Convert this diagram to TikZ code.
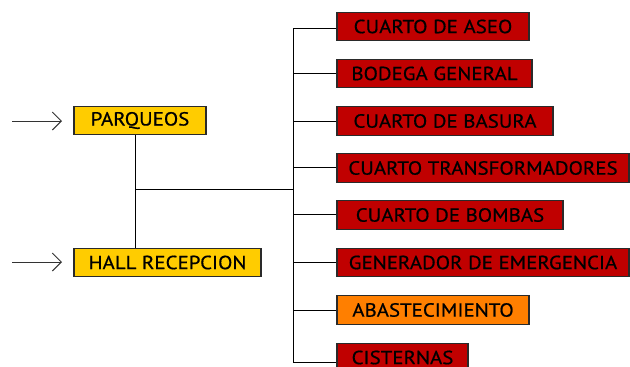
\documentclass[tikz,border=0pt]{standalone}
\usepackage{fontspec}
\setmainfont{PT Sans}[FakeStretch=1.1,FakeBold=0.6]
\usetikzlibrary{arrows.meta}
\definecolor{boxred}{HTML}{C00000}
\definecolor{boxyellow}{HTML}{FFCC00}
\definecolor{boxorange}{HTML}{FF7F00}
\definecolor{edgegray}{HTML}{2A2A2A}
\tikzset{
  roombox/.style={draw=edgegray, line width=1.1pt, minimum height=28.5pt, inner sep=0pt,
    font=\fontsize{19}{21}\selectfont, text=black},
  redbox/.style={roombox, fill=boxred},
  yellowbox/.style={roombox, fill=boxyellow},
  orangebox/.style={roombox, fill=boxorange},
  conn/.style={draw=black, line width=1pt},
  entry/.style={draw=black!80, line width=1pt, -{Straight Barb[length=9pt,width=18pt,line width=1pt]}}
}
\begin{document}
\begin{tikzpicture}[x=1pt,y=-1pt]
\useasboundingbox (0,0) rectangle (630,367);
% left boxes
\node[yellowbox, minimum width=132pt] (parq) at (140,120.5) {PARQUEOS};
\node[yellowbox, minimum width=187pt] (hall) at (167.5,262.5) {HALL RECEPCION};
% right boxes
\node[redbox, minimum width=192pt] (aseo) at (433,26.5) {CUARTO DE ASEO};
\node[redbox, minimum width=195pt] (bodega) at (434.5,73.5) {BODEGA GENERAL};
\node[redbox, minimum width=216pt] (basura) at (445,121) {CUARTO DE BASURA};
\node[redbox, minimum width=292pt] (transf) at (483,168) {CUARTO TRANSFORMADORES};
\node[redbox, minimum width=226pt] (bombas) at (450,215) {CUARTO DE BOMBAS};
\node[redbox, minimum width=292pt] (gener) at (483,262.5) {GENERADOR DE EMERGENCIA};
\node[orangebox, minimum width=192pt] (abast) at (433,310) {ABASTECIMIENTO};
\node[redbox, minimum width=131pt] (cist) at (402.5,357.5) {CISTERNAS};
% coordinates
\coordinate (ta) at (293,28);
\coordinate (tb) at (293,362);
\coordinate (jl) at (135,189);
\coordinate (jr) at (293,189);
\coordinate (pa) at (12,121);
\coordinate (pb) at (62,121);
\coordinate (ha) at (12,262);
\coordinate (hb) at (62,262);
% arrows in
\draw[entry] (pa) -- (pb);
\draw[entry] (ha) -- (hb);
% left connector
\draw[conn] (parq.south -| jl) -- (hall.north -| jl);
\draw[conn] (jl) -- (jr);
% trunk
\draw[conn] (ta) -- (tb);
\draw[conn] (ta) -- (aseo.west |- ta);
\draw[conn] (293,73) -- (bodega.west |- 0,73);
\draw[conn] (293,121) -- (basura.west);
\draw[conn] (293,167) -- (transf.west |- 0,167);
\draw[conn] (293,214) -- (bombas.west |- 0,214);
\draw[conn] (293,262) -- (gener.west |- 0,262);
\draw[conn] (293,310) -- (abast.west);
\draw[conn] (tb) -- (cist.west |- tb);
\end{tikzpicture}
\end{document}
